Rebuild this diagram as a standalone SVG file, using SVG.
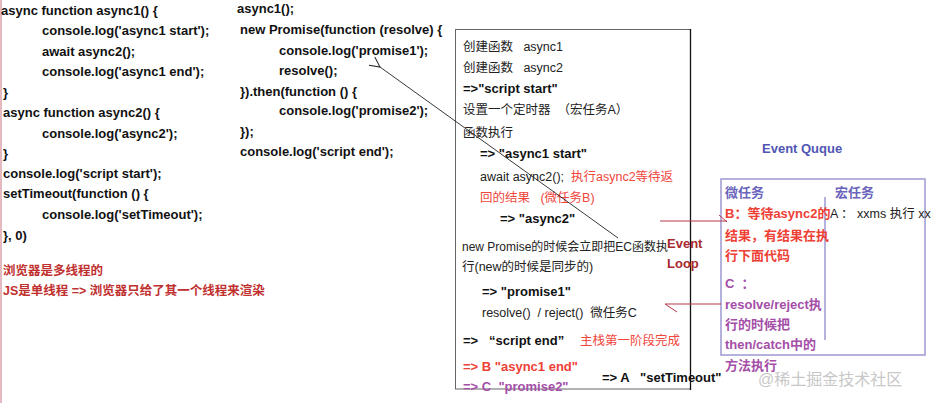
<svg xmlns="http://www.w3.org/2000/svg" width="934" height="403" viewBox="0 0 934 403" xml:space="preserve">
<defs>
<style>
text{white-space:pre}
.code{font-family:"Liberation Sans","Noto Sans CJK SC",sans-serif;font-size:13px;font-weight:bold;fill:#111}
.note{font-family:"Liberation Sans","Noto Sans CJK SC",sans-serif;font-size:12.5px;font-weight:bold;fill:#c0302f}
.reg{font-family:"Liberation Sans","Noto Sans CJK SC",sans-serif;font-size:12.5px;fill:#222}
.regred{font-family:"Liberation Sans","Noto Sans CJK SC",sans-serif;font-size:12.5px;fill:#f0463c}
.bold{font-family:"Liberation Sans","Noto Sans CJK SC",sans-serif;font-size:13px;font-weight:bold;fill:#111}
.boldred{font-family:"Liberation Sans","Noto Sans CJK SC",sans-serif;font-size:13px;font-weight:bold;fill:#ee4035}
.boldpurple{font-family:"Liberation Sans","Noto Sans CJK SC",sans-serif;font-size:13px;font-weight:bold;fill:#a44ea8}
.loop{font-family:"Liberation Sans","Noto Sans CJK SC",sans-serif;font-size:13px;font-weight:bold;fill:#a82a2e}
.qhead{font-family:"Liberation Sans","Noto Sans CJK SC",sans-serif;font-size:13px;font-weight:bold;fill:#5056b4}
.wm{font-family:"Liberation Sans","Noto Sans CJK SC",sans-serif;font-size:16px;fill:#c8c8c8}
.redline{stroke:#b8384c;stroke-width:1;fill:none}
</style>
<marker id="openArrow" viewBox="0 0 12 12" refX="1" refY="6" markerWidth="12" markerHeight="12" markerUnits="userSpaceOnUse" orient="auto">
<path d="M11,1 L1,6 L11,11" fill="none" stroke="#222" stroke-width="1"/>
</marker>
</defs>
<rect width="934" height="403" fill="#ffffff"/>
<line x1="1" y1="0" x2="1" y2="403" stroke="#dba2aa" stroke-width="1.5"/>
<g id="code-left">
<text class="code" x="1" y="14.5">async function async1() {</text>
<text class="code" x="42" y="35">console.log('async1 start');</text>
<text class="code" x="42" y="55.5">await async2();</text>
<text class="code" x="42" y="76">console.log('async1 end');</text>
<text class="code" x="3" y="96.5">}</text>
<text class="code" x="3" y="117">async function async2() {</text>
<text class="code" x="42" y="137.5">console.log('async2');</text>
<text class="code" x="3" y="158">}</text>
<text class="code" x="3" y="178">console.log('script start');</text>
<text class="code" x="3" y="198">setTimeout(function () {</text>
<text class="code" x="42" y="219">console.log('setTimeout');</text>
<text class="code" x="3" y="240">}, 0)</text>
<text class="note" x="3" y="275">浏览器是多线程的</text>
<text class="note" x="3" y="295">JS是单线程 =&gt; 浏览器只给了其一个线程来渲染</text>
</g>
<g id="code-middle">
<text class="code" x="237" y="13">async1();</text>
<text class="code" x="240" y="34">new Promise(function (resolve) {</text>
<text class="code" x="279" y="55">console.log('promise1');</text>
<text class="code" x="279" y="75">resolve();</text>
<text class="code" x="240" y="95.5">}).then(function () {</text>
<text class="code" x="279" y="115">console.log('promise2');</text>
<text class="code" x="240" y="136">});</text>
<text class="code" x="240" y="156">console.log('script end');</text>
</g>
<g id="execution-box">
<rect x="455.5" y="29.5" width="235" height="359.5" fill="none" stroke="#666" stroke-width="1"/>
<line x1="690.5" y1="29" x2="690.5" y2="390" stroke="#111" stroke-width="1.3"/>
<text class="reg" x="463" y="51">创建函数   async1</text>
<text class="reg" x="463" y="72">创建函数   async2</text>
<text class="bold" x="463" y="93">=&gt;"script start"</text>
<text class="reg" x="463" y="114">设置一个定时器  （宏任务A）</text>
<text class="reg" x="463" y="137">函数执行</text>
<text class="bold" x="480" y="158">=&gt; "async1 start"</text>
<text class="reg" x="480" y="181">await async2();  <tspan fill="#f0463c">执行async2等待返</tspan></text>
<text class="regred" x="480" y="202">回的结果   (微任务B)</text>
<text class="bold" x="500" y="223">=&gt; "async2"</text>
<text class="reg" x="462" y="251" style="font-size:12px">new Promise的时候会立即把EC函数执</text>
<text class="reg" x="462" y="271">行(new的时候是同步的)</text>
<text class="bold" x="482" y="296">=&gt; "promise1"</text>
<text class="reg" x="482" y="317">resolve()  / reject()  微任务C</text>
<text class="bold" x="463" y="345">=&gt;   “script end”</text>
<text class="regred" x="580" y="345">主栈第一阶段完成</text>
<text class="boldred" x="463" y="371">=&gt; B "async1 end"</text>
<text class="boldpurple" x="463" y="391">=&gt; C  "promise2"</text>
<text class="bold" x="602" y="382">=&gt; A   "setTimeout"</text>
</g>
<g id="event-loop-label">
<text class="loop" x="667" y="248">Event</text>
<text class="loop" x="667" y="268">Loop</text>
</g>
<g id="event-queue">
<text class="qhead" x="762" y="153">Event Quque</text>
<rect x="721" y="179" width="204" height="176" fill="none" stroke="#9d98d2" stroke-width="1.5"/>
<line x1="825" y1="197" x2="825" y2="340" stroke="#9d98d2" stroke-width="1.5"/>
<text class="qhead" x="725" y="197" style="fill:#6a64bc">微任务</text>
<text class="qhead" x="835" y="197" style="fill:#6a64bc">宏任务</text>
<text class="boldred" x="725" y="218">B：等待async2的</text>
<text class="boldred" x="725" y="240">结果，有结果在执</text>
<text class="boldred" x="725" y="260">行下面代码</text>
<text class="reg" x="830" y="218">A ： xxms 执行 xx</text>
<text class="boldpurple" x="725" y="288">C  ：</text>
<text class="boldpurple" x="725" y="309">resolve/reject执</text>
<text class="boldpurple" x="725" y="329">行的时候把</text>
<text class="boldpurple" x="725" y="349">then/catch中的</text>
<text class="boldpurple" x="725" y="370">方法执行</text>
</g>
<g id="connectors">
<line x1="618" y1="238" x2="380" y2="67" stroke="#222" stroke-width="0.9" marker-end="url(#openArrow)"/>
<path class="redline" d="M660,221 L727,221 M719,215 L727,222"/>
<path class="redline" d="M721,304 L665,304 L677,312"/>
</g>
<text class="wm" x="758" y="385">@稀土掘金技术社区</text>
</svg>
